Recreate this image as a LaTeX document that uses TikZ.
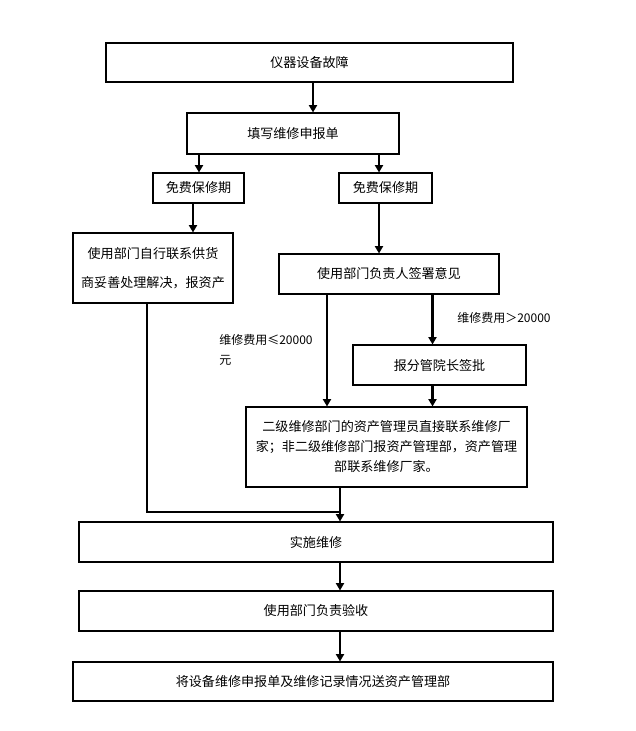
\documentclass[tikz,border=0pt]{standalone}
\usepackage{fontspec}
\setmainfont{Noto Sans CJK SC}
\usetikzlibrary{arrows.meta}
\begin{document}
\begin{tikzpicture}[x=0.75pt,y=-0.75pt,
  box/.style={draw,line width=0.8pt,inner sep=0pt,align=center,font=\fontsize{9.8pt}{14pt}\selectfont},
  arr/.style={line width=2.1pt,-{Triangle[width=6pt,length=5.5pt]}},
  thin/.style={line width=0.8pt},
  lbl/.style={font=\fontsize{9pt}{15pt}\selectfont,inner sep=0pt,align=left}]
\useasboundingbox[fill=white] (0,0) rectangle (635,731);
\node[box,minimum width=407*0.75pt,minimum height=39*0.75pt] (b1) at (309.5,62.5) {仪器设备故障};
\node[box,minimum width=212*0.75pt,minimum height=41*0.75pt] (b2) at (293,133.5) {填写维修申报单};
\node[box,minimum width=91*0.75pt,minimum height=30*0.75pt] (b3l) at (198.5,188) {免费保修期};
\node[box,minimum width=93*0.75pt,minimum height=30*0.75pt] (b3r) at (385.5,188) {免费保修期};
\node[box,minimum width=160*0.75pt,minimum height=70*0.75pt,font=\fontsize{9.8pt}{21.75pt}\selectfont] (b4) at (153,268) {使用部门自行联系供货\\商妥善处理解决，报资产};
\node[box,minimum width=220*0.75pt,minimum height=40*0.75pt] (b5) at (389,274) {使用部门负责人签署意见};
\node[box,minimum width=173*0.75pt,minimum height=40*0.75pt] (b6) at (439.5,365) {报分管院长签批};
\node[box,minimum width=281*0.75pt,minimum height=80*0.75pt,font=\fontsize{9.8pt}{15pt}\selectfont] (b7) at (386.5,447) {二级维修部门的资产管理员直接联系维修厂\\家；非二级维修部门报资产管理部，资产管理\\部联系维修厂家。};
\node[box,minimum width=474*0.75pt,minimum height=40*0.75pt] (b8) at (316,542) {实施维修};
\node[box,minimum width=474*0.75pt,minimum height=40*0.75pt] (b9) at (316,611) {使用部门负责验收};
\node[box,minimum width=480*0.75pt,minimum height=39*0.75pt] (b10) at (313,681.5) {将设备维修申报单及维修记录情况送资产管理部};
\node[lbl,anchor=west] (l1) at (457,318) {维修费用＞20000};
\node[lbl,anchor=west] (l2) at (219,350) {维修费用≤20000\\元};
\coordinate (x1) at (313,0);
\coordinate (x2) at (199,0);
\coordinate (x3) at (379,0);
\coordinate (x4) at (193,0);
\coordinate (x5) at (327,0);
\coordinate (x6) at (432.5,0);
\coordinate (x7) at (340,0);
\coordinate (x8) at (147,0);
\coordinate (j) at (340,512);
\draw[arr] (b1.south -| x1) -- (b2.north -| x1);
\draw[arr] (b2.south -| x2) -- (b3l.north -| x2);
\draw[arr] (b2.south -| x3) -- (b3r.north -| x3);
\draw[arr] (b3l.south -| x4) -- (b4.north -| x4);
\draw[arr] (b3r.south -| x3) -- (b5.north -| x3);
\draw[arr] (b5.south -| x5) -- (b7.north -| x5);
\draw[arr] (b5.south -| x6) -- (b6.north -| x6);
\draw[arr] (b6.south -| x6) -- (b7.north -| x6);
\draw[thin] (b4.south -| x8) |- (j);
\draw[arr] (b7.south -| x7) -- (b8.north -| x7);
\draw[arr] (b8.south -| x7) -- (b9.north -| x7);
\draw[arr] (b9.south -| x7) -- (b10.north -| x7);
\end{tikzpicture}
\end{document}
